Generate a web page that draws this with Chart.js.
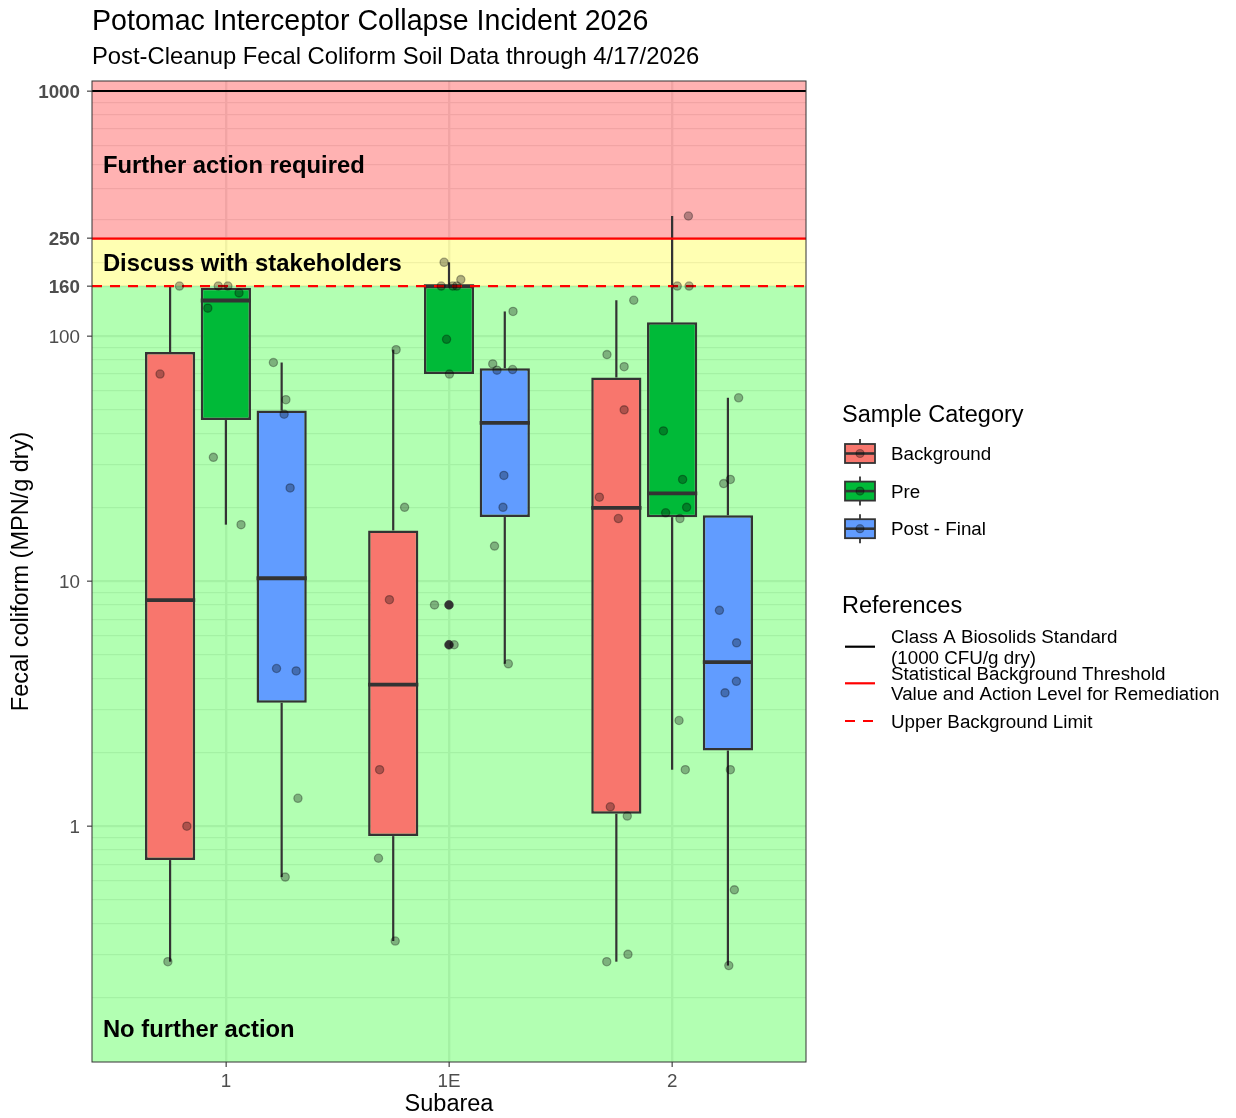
<!DOCTYPE html>
<html>
<head>
<meta charset="utf-8">
<title>Potomac Interceptor Collapse Incident 2026</title>
<script src="https://cdn.jsdelivr.net/npm/chart.js@4.4.1/dist/chart.umd.min.js"></script>
<style>
  html, body { margin: 0; padding: 0; background: #ffffff; }
  #wrap { width: 1236px; height: 1118px; position: relative; }
</style>
</head>
<body>
<div id="wrap"><canvas id="chart" width="1236" height="1118"></canvas></div>
<script>
// ---- Data -------------------------------------------------------------
const subareas = ['1', '1E', '2'];
const sampleCategories = ['Background', 'Pre', 'Post - Final'];

// Fecal coliform results (MPN/g dry), one list per subarea
const backgroundValues = [
  [160, 70, 1.0, 0.28],
  [88, 20, 8.4, 1.7, 0.74, 0.34],
  [140, 84, 75, 50, 22, 18, 1.2, 1.1, 0.30, 0.28]
];
const preValues = [
  [17, 32, 130, 150, 160, 160],
  [200, 170, 160, 160, 160, 97, 70, 8.0, 5.5],
  [309, 160, 160, 41, 26, 20, 19, 18, 2.7, 1.7]
];
const postFinalValues = [
  [78, 55, 48, 24, 4.4, 4.3, 1.3, 0.62],
  [126, 77, 72.6, 73, 27, 20, 13.9, 4.6],
  [56, 25, 26, 7.6, 5.6, 3.9, 3.5, 1.7, 0.55, 0.27]
];

// horizontal jitter of each sample (fraction of a subarea slot)
const backgroundJitter = [
  [0.042, -0.045, 0.075, -0.010],
  [0.013, 0.051, -0.017, -0.061, -0.066, 0.009],
  [0.078, -0.042, 0.035, 0.035, -0.076, 0.009, -0.027, 0.049, 0.052, -0.043]
];
const preJitter = [
  [0.068, -0.056, -0.081, 0.059, -0.034, 0.009],
  [-0.022, 0.053, -0.035, 0.017, 0.035, -0.011, 0.002, -0.065, 0.023],
  [0.073, 0.023, 0.076, -0.039, 0.047, 0.065, -0.029, 0.035, 0.031, 0.059]
];
const postFinalJitter = [
  [-0.037, 0.019, 0.011, 0.038, -0.023, 0.065, 0.073, 0.016],
  [0.037, -0.054, -0.035, 0.035, -0.004, -0.008, -0.046, 0.016],
  [0.048, -0.019, 0.011, -0.038, 0.039, 0.038, -0.013, 0.011, 0.029, 0.004]
];

const yMajorTicks = [1, 10, 100, 160, 250, 1000];
const yBoldTicks = [160, 250, 1000];
const yMinorTicks = [0.2, 0.3, 0.4, 0.5, 0.6, 0.7, 0.8, 0.9,
                     2, 3, 4, 5, 6, 7, 8, 9,
                     20, 30, 40, 50, 60, 70, 80, 90,
                     200, 300, 400, 500, 600, 700, 800, 900];

const referenceLevels = [1000, 250, 160];
const referenceNames = [
  ['Class A Biosolids Standard', '(1000 CFU/g dry)'],
  ['Statistical Background Threshold', 'Value and Action Level for Remediation'],
  ['Upper Background Limit']
];

const zoneLabels = ['Further action required', 'Discuss with stakeholders', 'No further action'];
const zoneLabelLevels = [500, 200, 0.15];
const zoneBounds = [[250, Infinity], [160, 250], [0, 160]];

// ---- Styling ----------------------------------------------------------
const fontFamily = '"Liberation Sans", Arial, Helvetica, sans-serif';
const categoryColors = ['#F8766D', '#00BA38', '#619CFF'];
const zoneFills = ['rgba(255,0,0,0.3)', 'rgba(255,255,0,0.3)', 'rgba(0,255,0,0.3)'];
const referenceStyles = [
  { color: '#000000', dash: [] },
  { color: '#FF0000', dash: [] },
  { color: '#FF0000', dash: [10, 8] }
];
const pointFill = 'rgba(0,0,0,0.3)';
const outlineColor = '#333333';
const dodge = [-0.25, 0, 0.25];
const yLimits = [0.1091, 1098.4];
const xLimits = [0.4, 3.6];
const zoneLabelX = 0.449;

// ---- Box statistics (computed on log10 values) -------------------------
function quantile7(sorted, p) {
  const h = (sorted.length - 1) * p;
  const lo = Math.floor(h);
  const hi = Math.min(lo + 1, sorted.length - 1);
  return sorted[lo] + (h - lo) * (sorted[hi] - sorted[lo]);
}
function boxStats(values) {
  const logs = values.map(Math.log10).sort((a, b) => a - b);
  const q1 = quantile7(logs, 0.25), med = quantile7(logs, 0.5), q3 = quantile7(logs, 0.75);
  const iqr = q3 - q1, lo = q1 - 1.5 * iqr, hi = q3 + 1.5 * iqr;
  const inside = logs.filter(v => v >= lo - 1e-12 && v <= hi + 1e-12);
  return {
    q1: Math.pow(10, q1), median: Math.pow(10, med), q3: Math.pow(10, q3),
    low: Math.pow(10, Math.min(...inside)), high: Math.pow(10, Math.max(...inside)),
    outliers: logs.filter(v => v < lo - 1e-12 || v > hi + 1e-12).map(v => Math.pow(10, v))
  };
}

const seriesValues = [backgroundValues, preValues, postFinalValues];
const seriesJitter = [backgroundJitter, preJitter, postFinalJitter];

const datasets = [];
const outlierPoints = [];
const samplePoints = [];

seriesValues.forEach((groups, s) => {
  const stats = groups.map(boxStats);
  datasets.push({
    type: 'bar',
    role: 'box',
    label: sampleCategories[s],
    stats: stats,
    data: stats.map((st, g) => ({ x: g + 1 + dodge[s], y: [st.q1, st.q3] })),
    backgroundColor: categoryColors[s],
    borderColor: outlineColor,
    borderWidth: 2.5,
    borderSkipped: false,
    grouped: false,
    categoryPercentage: 1,
    barPercentage: 0.9,
    order: 10 - s
  });
  stats.forEach((st, g) => st.outliers.forEach(v => outlierPoints.push({ x: g + 1 + dodge[s], y: v })));
  groups.forEach((vals, g) => vals.forEach((v, k) => {
    samplePoints.push({ x: g + 1 + dodge[s] + seriesJitter[s][g][k], y: v });
  }));
});

datasets.push({
  type: 'scatter', role: 'outlier', label: 'outliers', data: outlierPoints,
  pointRadius: 4.4, pointBackgroundColor: outlineColor, pointBorderColor: outlineColor,
  pointBorderWidth: 0.5, order: 2
});
datasets.push({
  type: 'scatter', role: 'sample', label: 'samples', data: samplePoints,
  pointRadius: 4.1, pointBackgroundColor: pointFill, pointBorderColor: pointFill,
  pointBorderWidth: 1.3, order: 1
});

// ---- Drawing helpers --------------------------------------------------
function line(ctx, x1, y1, x2, y2) {
  ctx.beginPath(); ctx.moveTo(x1, y1); ctx.lineTo(x2, y2); ctx.stroke();
}
const capRatio = 0.716;

const plotDecor = {
  id: 'plotDecor',
  beforeDatasetsDraw(chart) {
    const { ctx, chartArea: a, scales: { x, y } } = chart;
    ctx.save();
    ctx.beginPath(); ctx.rect(a.left, a.top, a.width, a.height); ctx.clip();
    // shaded action zones
    zoneBounds.forEach(([lo, hi], i) => {
      const top = hi === Infinity ? a.top : y.getPixelForValue(hi);
      const bottom = lo <= 0 ? a.bottom : y.getPixelForValue(lo);
      ctx.fillStyle = zoneFills[i];
      ctx.fillRect(a.left, top, a.width, bottom - top);
    });
    // zone captions
    const size = 23.8;
    ctx.fillStyle = '#000000';
    ctx.font = `bold ${size}px ${fontFamily}`;
    ctx.textAlign = 'left';
    ctx.textBaseline = 'alphabetic';
    zoneLabels.forEach((t, i) => {
      ctx.fillText(t, x.getPixelForValue(zoneLabelX), y.getPixelForValue(zoneLabelLevels[i]) + size * capRatio / 2);
    });
    // whiskers
    ctx.strokeStyle = outlineColor;
    ctx.lineWidth = 2.2;
    chart.data.datasets.forEach((ds, i) => {
      if (ds.role !== 'box') return;
      const meta = chart.getDatasetMeta(i);
      meta.data.forEach((bar, j) => {
        const st = ds.stats[j];
        line(ctx, bar.x, y.getPixelForValue(st.low), bar.x, y.getPixelForValue(st.q1));
        line(ctx, bar.x, y.getPixelForValue(st.q3), bar.x, y.getPixelForValue(st.high));
      });
    });
    ctx.restore();
  },
  afterDatasetDraw(chart, args) {
    const ds = chart.data.datasets[args.index];
    if (ds.role !== 'box') return;
    const { ctx, scales: { y } } = chart;
    ctx.save();
    ctx.strokeStyle = outlineColor;
    ctx.lineWidth = 3.8;
    args.meta.data.forEach((bar, j) => {
      const py = y.getPixelForValue(ds.stats[j].median);
      line(ctx, bar.x - bar.width / 2, py, bar.x + bar.width / 2, py);
    });
    ctx.restore();
  },
  beforeDatasetDraw(chart, args) {
    const ds = chart.data.datasets[args.index];
    if (ds.role !== 'outlier') return;
    const { ctx, chartArea: a, scales: { y } } = chart;
    ctx.save();
    ctx.lineWidth = 2.2;
    referenceLevels.forEach((lvl, i) => {
      ctx.strokeStyle = referenceStyles[i].color;
      ctx.setLineDash(referenceStyles[i].dash);
      const py = y.getPixelForValue(lvl);
      line(ctx, a.left, py, a.right, py);
    });
    ctx.restore();
  },
  afterDraw(chart) {
    const { ctx, chartArea: a } = chart;
    ctx.save();
    // panel border
    ctx.strokeStyle = outlineColor;
    ctx.lineWidth = 1;
    ctx.strokeRect(a.left, a.top, a.width, a.height);

    // titles
    ctx.fillStyle = '#000000';
    ctx.textAlign = 'left';
    ctx.textBaseline = 'alphabetic';
    ctx.font = `28.6px ${fontFamily}`;
    ctx.fillText('Potomac Interceptor Collapse Incident 2026', a.left, 30);
    ctx.font = `23.8px ${fontFamily}`;
    ctx.fillText('Post-Cleanup Fecal Coliform Soil Data through 4/17/2026', a.left, 64);

    // legend: sample category
    const legendX = 842, keyX = 845, keyW = 30, textX = 891;
    const textSize = 18.8;
    ctx.font = `23.5px ${fontFamily}`;
    ctx.fillText('Sample Category', legendX, 422);
    sampleCategories.forEach((name, i) => {
      const cy = 453.5 + i * 37.6;
      const cx = keyX + keyW / 2;
      ctx.strokeStyle = outlineColor;
      ctx.lineWidth = 1.8;
      line(ctx, cx, cy - 14.5, cx, cy + 14.5);
      ctx.fillStyle = categoryColors[i];
      ctx.fillRect(keyX, cy - 9.5, keyW, 19);
      ctx.strokeRect(keyX, cy - 9.5, keyW, 19);
      ctx.lineWidth = 2.6;
      line(ctx, keyX, cy, keyX + keyW, cy);
      ctx.fillStyle = pointFill;
      ctx.strokeStyle = pointFill;
      ctx.lineWidth = 1.2;
      ctx.beginPath(); ctx.arc(cx, cy, 4, 0, Math.PI * 2); ctx.fill(); ctx.stroke();
      ctx.fillStyle = '#000000';
      ctx.font = `${textSize}px ${fontFamily}`;
      ctx.fillText(name, textX, cy + textSize * capRatio / 2);
    });

    // legend: reference lines
    ctx.font = `23.5px ${fontFamily}`;
    ctx.fillText('References', legendX, 613);
    const refKeyY = [646.7, 683.3, 721];
    referenceNames.forEach((lines, i) => {
      const cy = refKeyY[i];
      ctx.strokeStyle = referenceStyles[i].color;
      ctx.setLineDash(referenceStyles[i].dash);
      ctx.lineWidth = 2.2;
      line(ctx, keyX, cy, keyX + keyW, cy);
      ctx.setLineDash([]);
      ctx.fillStyle = '#000000';
      ctx.font = `${textSize}px ${fontFamily}`;
      const step = 20.4;
      lines.forEach((t, k) => {
        const ly = cy + (k - (lines.length - 1) / 2) * step;
        ctx.fillText(t, textX, ly + textSize * capRatio / 2);
      });
    });
    ctx.restore();
  }
};

// ---- Chart ------------------------------------------------------------
const isMajor = v => yMajorTicks.includes(v);

new Chart(document.getElementById('chart'), {
  type: 'bar',
  data: { datasets },
  options: {
    responsive: false,
    animation: false,
    devicePixelRatio: 1,
    events: [],
    layout: { padding: { top: 81, right: 430, bottom: 0, left: 0 } },
    plugins: {
      legend: { display: false },
      tooltip: { enabled: false },
      title: { display: false }
    },
    scales: {
      x: {
        type: 'linear',
        min: xLimits[0], max: xLimits[1],
        bounds: 'data',
        offset: false,
        afterBuildTicks: s => { s.ticks = subareas.map((_, i) => ({ value: i + 1 })); },
        afterFit: s => { s.height = 56; },
        ticks: {
          autoSkip: false, maxRotation: 0, padding: 4,
          color: '#4D4D4D',
          font: { family: fontFamily, size: 18.8 },
          callback: v => subareas[Math.round(v) - 1]
        },
        grid: {
          offset: false, color: '#EBEBEB', lineWidth: 2.3,
          drawTicks: true, tickLength: 5, tickColor: outlineColor, tickWidth: 1.1
        },
        border: { display: false },
        title: {
          display: true, text: 'Subarea', color: '#000000',
          font: { family: fontFamily, size: 23.5, lineHeight: 1 },
          padding: { top: 0, bottom: 1.5 }
        }
      },
      y: {
        type: 'logarithmic',
        min: yLimits[0], max: yLimits[1],
        bounds: 'data',
        afterBuildTicks: s => {
          s.ticks = yMinorTicks.concat(yMajorTicks).sort((p, q) => p - q).map(v => ({ value: v }));
        },
        afterFit: s => { s.width = 92; },
        ticks: {
          autoSkip: false, padding: 7, labelOffset: 1.5,
          color: '#4D4D4D',
          font: c => ({ family: fontFamily, size: 18.8, weight: yBoldTicks.includes(c.tick && c.tick.value) ? 'bold' : 'normal' }),
          callback: v => isMajor(v) ? String(v) : ''
        },
        grid: {
          color: '#EBEBEB',
          lineWidth: c => (c.tick && isMajor(c.tick.value)) ? 2.3 : 1.15,
          drawTicks: true, tickLength: 5,
          tickColor: c => (c.tick && isMajor(c.tick.value)) ? outlineColor : 'rgba(0,0,0,0)',
          tickWidth: 1.1
        },
        border: { display: false },
        title: {
          display: true, text: 'Fecal coliform (MPN/g dry)', color: '#000000',
          font: { family: fontFamily, size: 23.5 },
          padding: { top: 7, bottom: 0 }
        }
      }
    }
  },
  plugins: [plotDecor]
});
</script>
</body>
</html>
